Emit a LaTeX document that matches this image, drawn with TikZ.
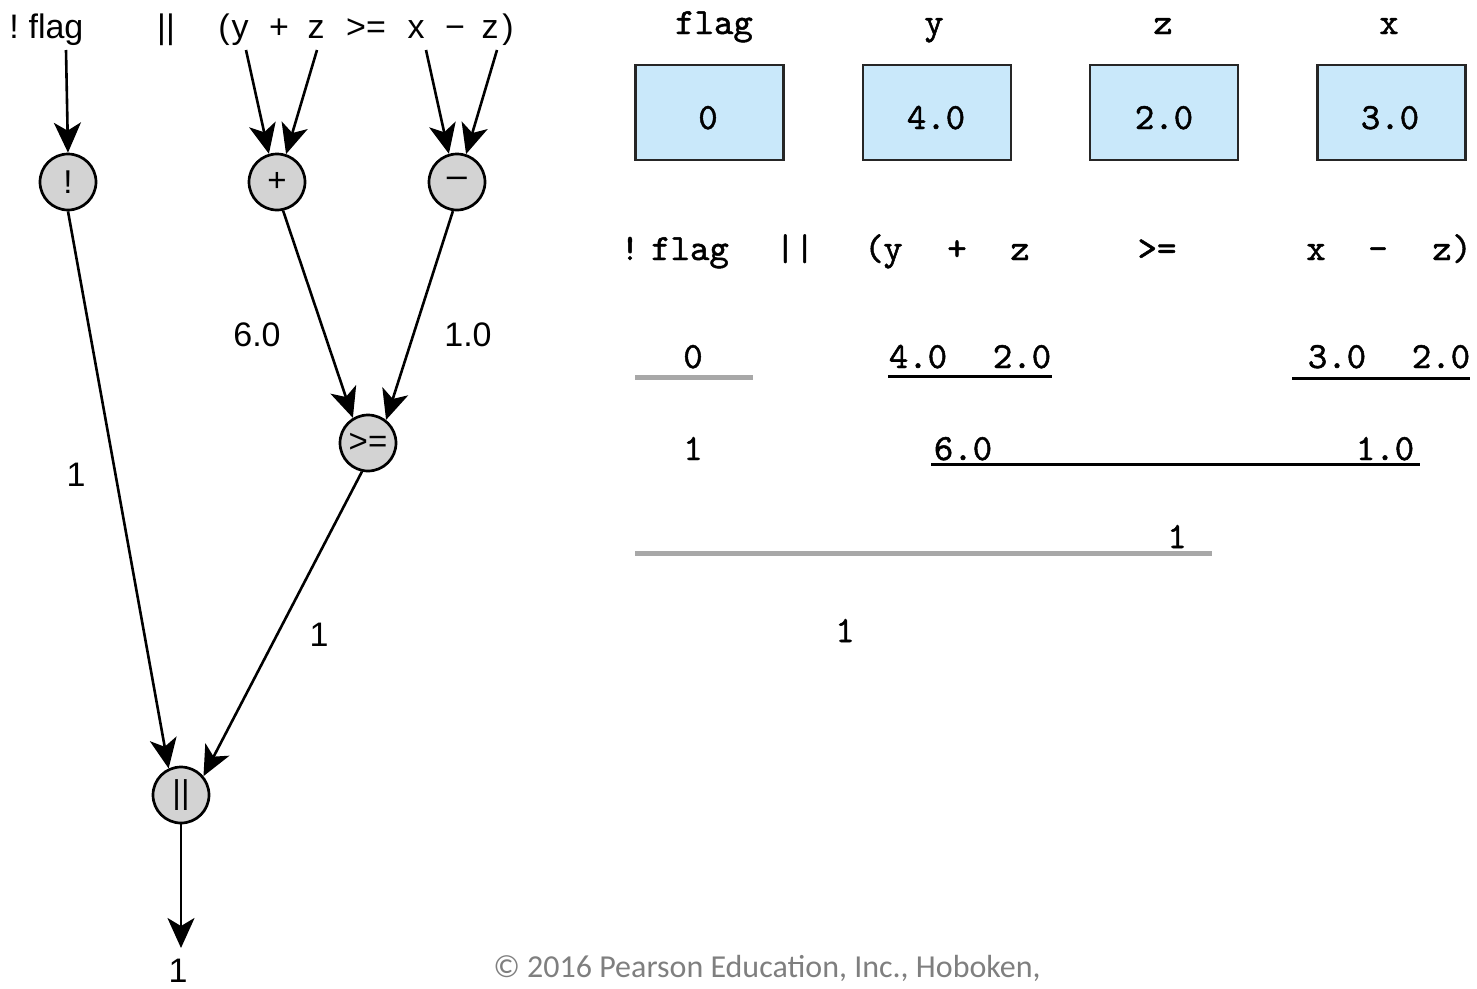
\documentclass[tikz,border=0pt]{standalone}
\usepackage{fontspec}
\setmainfont{Liberation Sans}
\newfontfamily\copyfont{Carlito}
\newfontfamily\monofont{lmmono10-regular.otf}[FakeBold=1.3]
\usetikzlibrary{arrows.meta}
\definecolor{boxblue}{HTML}{C9E8FA}
\definecolor{nodegray}{HTML}{D3D3D3}
\definecolor{ulgraycol}{HTML}{A8A8A8}
\definecolor{copygray}{HTML}{7F7F7F}
\tikzset{
  lbl/.style={font=\fontsize{34}{40}\selectfont, anchor=base, inner sep=0pt},
  mono/.style={font=\monofont\fontsize{37}{44}\selectfont, anchor=base, inner sep=0pt},
  opnode/.style={circle, draw=black, line width=2.7pt, fill=nodegray, minimum size=56pt, inner sep=0pt, font=\fontsize{33}{36}\selectfont},
  conn/.style={line width=2.6pt, -{Stealth[length=30pt,width=27pt,inset=8pt]}},
  valbox/.style={draw=black!85, line width=2.5pt, fill=boxblue, minimum width=148pt, minimum height=95pt, inner sep=0pt},
  ulblack/.style={line width=3pt, draw=black},
  ulgray/.style={line width=5pt, draw=ulgraycol}
}
\begin{document}
\begin{tikzpicture}[x=1pt,y=-1pt]
\useasboundingbox (0,0) rectangle (1477,988);
% ---------- left: expression tree ----------
\node[lbl] (tNot) at (14,38) {!};
\node[lbl] (tFlag) at (56,38) {flag};
\node[lbl] (tOr) at (166,38) {||};
\node[lbl] (tLp) at (224,38) {(};
\node[lbl] (tY) at (240,38) {y};
\node[lbl] (tPlus) at (279,38) {+};
\node[lbl] (tZ1) at (316,38) {z};
\node[lbl] (tGe) at (366,38) {>=};
\node[lbl] (tX) at (416,38) {x};
\node[lbl] (tMinus) at (455,38) {−};
\node[lbl] (tZ2) at (490,38) {z};
\node[lbl] (tRp) at (508,38) {)};

\coordinate (sFlag) at (66,50);
\coordinate (sY) at (246,50);
\coordinate (sZ1) at (317,50);
\coordinate (sX) at (426,50);
\coordinate (sZ2) at (497,50);

\node[opnode] (nNot) at (68,182) {!};
\node[opnode] (nPlus) at (277,182) {+};
\node[opnode] (nMinus) at (457,182) {\fontsize{36}{38}\selectfont –};
\node[opnode] (nGe) at (368,443) {>=};
\node[opnode] (nOr) at (181,795) {||};
\coordinate (eOut) at (181,948);

\draw[conn] (sFlag) -- (nNot.north);
\draw[conn] (sY) -- (nPlus.106);
\draw[conn] (sZ1) -- (nPlus.72);
\draw[conn] (sX) -- (nMinus.106);
\draw[conn] (sZ2) -- (nMinus.72);
\draw[conn] (nPlus.282) -- (nGe.121);
\draw[conn] (nMinus.262) -- (nGe.52);
\draw[conn] (nNot.south) -- (nOr.115);
\draw[conn] (nGe.258) -- (nOr.40);
\draw[conn] (nOr.south) -- (eOut);

\node[lbl] (lab1) at (76,486) {1};
\node[lbl] (lab60) at (257,346) {6.0};
\node[lbl] (lab10) at (468,346) {1.0};
\node[lbl] (lab1b) at (319,646) {1};
\node[lbl] (labOut) at (178,982) {1};

% ---------- right: variables ----------
\node[mono] (vnFlag) at (714,34) {flag};
\node[mono] (vnY) at (934,34) {y};
\node[mono] (vnZ) at (1163,34) {z};
\node[mono] (vnX) at (1389,34) {x};

\node[valbox] (bFlag) at (709.5,112.5) {};
\node[valbox] (bY) at (937,112.5) {};
\node[valbox] (bZ) at (1164,112.5) {};
\node[valbox] (bX) at (1391.5,112.5) {};
\node[mono] (vFlag) at (708,129) {0};
\node[mono] (vY) at (936,129) {4.0};
\node[mono] (vZ) at (1164,129) {2.0};
\node[mono] (vX) at (1390,129) {3.0};

% ---------- right: evaluation ----------
\node[mono] (rNot) at (630,260) {!};
\node[mono] (rFlag) at (690,260) {flag};
\node[mono] (rOr) at (795,260) {||};
\node[mono] (rLp) at (874,260) {(};
\node[mono] (rY) at (893,260) {y};
\node[mono] (rPlus) at (957,260) {+};
\node[mono] (rZ1) at (1020,260) {z};
\node[mono] (rGe) at (1157,260) {>=};
\node[mono] (rX) at (1316,260) {x};
\node[mono] (rMinus) at (1378,260) {\textendash};
\node[mono] (rZ2) at (1442,260) {z};
\node[mono] (rRp) at (1462,260) {)};

\node[mono] (e0) at (693,368) {0};
\node[mono] (e40) at (918,368) {4.0};
\node[mono] (e20a) at (1022,368) {2.0};
\node[mono] (e30) at (1337,368) {3.0};
\node[mono] (e20b) at (1441,368) {2.0};
\draw[ulgray] (635,377) -- (753,377);
\draw[ulblack] (888,376) -- (1052,376);
\draw[ulblack] (1292,378) -- (1470,378);

\node[mono] (f1) at (693,460) {1};
\node[mono] (f60) at (963,460) {6.0};
\node[mono] (f10) at (1385,460) {1.0};
\draw[ulblack] (931,464) -- (1420,464);

\node[mono] (g1) at (1177,548) {1};
\draw[ulgray] (635,553) -- (1212,553);

\node[mono] (h1) at (845,642) {1};

\node[font=\copyfont\fontsize{32}{36}\selectfont, text=copygray, anchor=base, inner sep=0pt] (copy) at (767,977) {© 2016 Pearson Education, Inc., Hoboken,};
\end{tikzpicture}
\end{document}
